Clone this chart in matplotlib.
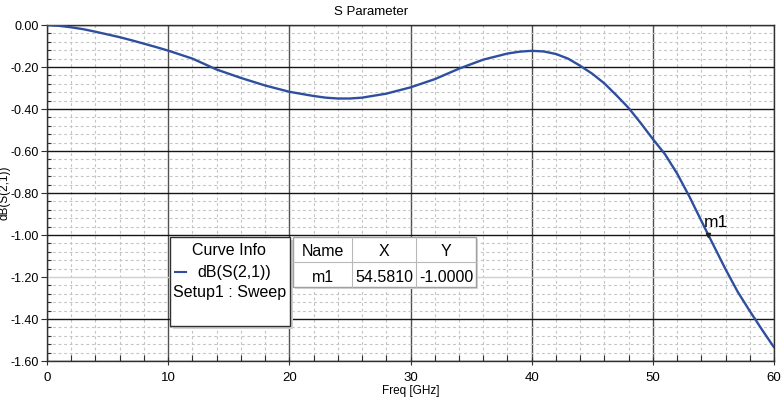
import matplotlib.pyplot as plt
from matplotlib.patches import Rectangle
from matplotlib.ticker import MultipleLocator, FormatStrFormatter

plt.rcParams["font.family"] = ["Liberation Sans", "DejaVu Sans"]

# S21 (GHz, dB)
freq = [0, 1, 2, 3, 4, 5, 6, 7, 8, 9, 10, 12, 14, 16, 18, 20, 22, 23, 24, 25, 26,
        28, 30, 32, 34, 36, 38, 39, 40, 41, 42, 43, 44, 45, 46, 47, 48, 49, 50,
        51, 52, 53, 54, 54.581, 55, 56, 57, 58, 59, 60]
s21 = [0, -0.004, -0.011, -0.02, -0.032, -0.045, -0.058, -0.073, -0.089, -0.105,
       -0.122, -0.16, -0.212, -0.252, -0.288, -0.318, -0.338, -0.346, -0.35,
       -0.35, -0.346, -0.327, -0.297, -0.258, -0.208, -0.165, -0.136, -0.127,
       -0.123, -0.126, -0.138, -0.16, -0.194, -0.232, -0.278, -0.335, -0.395,
       -0.467, -0.543, -0.615, -0.707, -0.815, -0.932, -1.0, -1.048, -1.163,
       -1.27, -1.362, -1.45, -1.535]

marker_name = "m1"
marker_x = 54.5810
marker_y = -1.0000
trace_name = "dB(S(2,1))"
setup_name = "Setup1 : Sweep"

blue = "#2f4f9e"

fig = plt.figure(figsize=(7.82, 4.02), dpi=100)
ax = fig.add_axes([47 / 782, 1 - 362 / 402, 727 / 782, 336 / 402])

ax.set_xlim(0, 60)
ax.set_ylim(-1.6, 0)
ax.xaxis.set_major_locator(MultipleLocator(10))
ax.xaxis.set_minor_locator(MultipleLocator(2))
ax.yaxis.set_major_locator(MultipleLocator(0.2))
ax.yaxis.set_minor_locator(MultipleLocator(0.04))
ax.yaxis.set_major_formatter(FormatStrFormatter("%.2f"))

# grid: light dashed minors, dark solid majors
ax.grid(which="minor", color="#c4c4c4", linestyle=(0, (2.5, 2.5)), linewidth=0.8)
ax.grid(which="major", axis="x", color="#505050", linestyle="-", linewidth=1.0)
ax.grid(which="major", axis="y", color="#151515", linestyle="-", linewidth=1.0)
for line, val in zip(ax.get_ygridlines(), ax.get_yticks()):
    if abs(val + 1.2) < 1e-6:
        line.set_color("#d0d0d0")
ax.set_axisbelow(True)

for s in ax.spines.values():
    s.set_color("#303030")
    s.set_linewidth(1.0)

ax.tick_params(which="major", direction="out", length=4, width=0.8,
               color="#303030", labelsize=9.5, pad=2)
ax.tick_params(axis="y", which="major", labelsize=9)
ax.tick_params(which="minor", direction="in", length=3, width=0.8, color="#303030")
ax.tick_params(axis="x", which="major", direction="inout", length=6, pad=4)
ax.tick_params(axis="x", which="minor", direction="in", length=4)

ax.plot(freq, s21, color=blue, linewidth=1.7, solid_capstyle="round", zorder=5)

# marker
ax.plot([marker_x], [marker_y], marker="v", markersize=3, color="#202020", zorder=6)
ax.text(marker_x - 0.4, marker_y + 0.03, marker_name, fontsize=12.5,
        ha="left", va="bottom", zorder=7)

ax.set_xlabel("Freq [GHz]", fontsize=8.5, labelpad=1)


def px(x, y):
    # figure pixel -> figure fraction
    return x / 782, 1 - y / 402


fig.text(*px(371, 12), "S Parameter", fontsize=9.5, ha="center", va="center")
fig.text(*px(5, 193), "dB(S(2,1))", fontsize=8.5, rotation=90,
         ha="center", va="center")

# Curve Info box
x0, y0 = px(170, 327)
x1, y1 = px(290, 238)
fig.patches.append(Rectangle((x0 + 0.004, y0 - 0.008), x1 - x0, y1 - y0,
                             transform=fig.transFigure, facecolor="#d0d0d0",
                             edgecolor="none", zorder=8))
fig.patches.append(Rectangle((x0, y0), x1 - x0, y1 - y0, transform=fig.transFigure,
                             facecolor="white", edgecolor="#303030", linewidth=1.0,
                             zorder=9))
fig.text(*px(229, 251), "Curve Info", fontsize=11.5, ha="center", va="center", zorder=10)
fig.text(*px(234, 272), trace_name, fontsize=11.5, ha="center", va="center", zorder=10)
fig.text(*px(230, 292), setup_name, fontsize=11.5, ha="center", va="center", zorder=10)
fig.lines.append(plt.Line2D([px(175, 0)[0], px(186, 0)[0]], [px(0, 273)[1]] * 2,
                            transform=fig.transFigure, color=blue, linewidth=1.5,
                            zorder=10))

# marker table
tx = [293, 352, 416, 476]
ty = [238, 263, 288]
tl, tb = px(tx[0], ty[2])
tr, tt = px(tx[3], ty[0])
fig.patches.append(Rectangle((tl + 0.003, tb - 0.006), tr - tl, tt - tb,
                             transform=fig.transFigure, facecolor="#d8d8d8",
                             edgecolor="none", zorder=8))
fig.patches.append(Rectangle((tl, tb), tr - tl, tt - tb, transform=fig.transFigure,
                             facecolor="white", edgecolor="#a0a0a0", linewidth=1.0,
                             zorder=9))
for xv in tx[1:3]:
    fig.lines.append(plt.Line2D([px(xv, 0)[0]] * 2, [tb, tt], transform=fig.transFigure,
                                color="#b8b8b8", linewidth=0.8, zorder=10))
fig.lines.append(plt.Line2D([tl, tr], [px(0, ty[1])[1]] * 2, transform=fig.transFigure,
                            color="#b8b8b8", linewidth=0.8, zorder=10))
headers = ["Name", "X", "Y"]
row = [marker_name, "%.4f" % marker_x, "%.4f" % marker_y]
for i in range(3):
    mx = (tx[i] + tx[i + 1]) / 2
    fig.text(*px(mx, 252), headers[i], fontsize=11.5, ha="center", va="center", zorder=11)
    fig.text(*px(mx, 277), row[i], fontsize=11.5, ha="center", va="center", zorder=11)

fig.savefig("out.png", dpi=100)
